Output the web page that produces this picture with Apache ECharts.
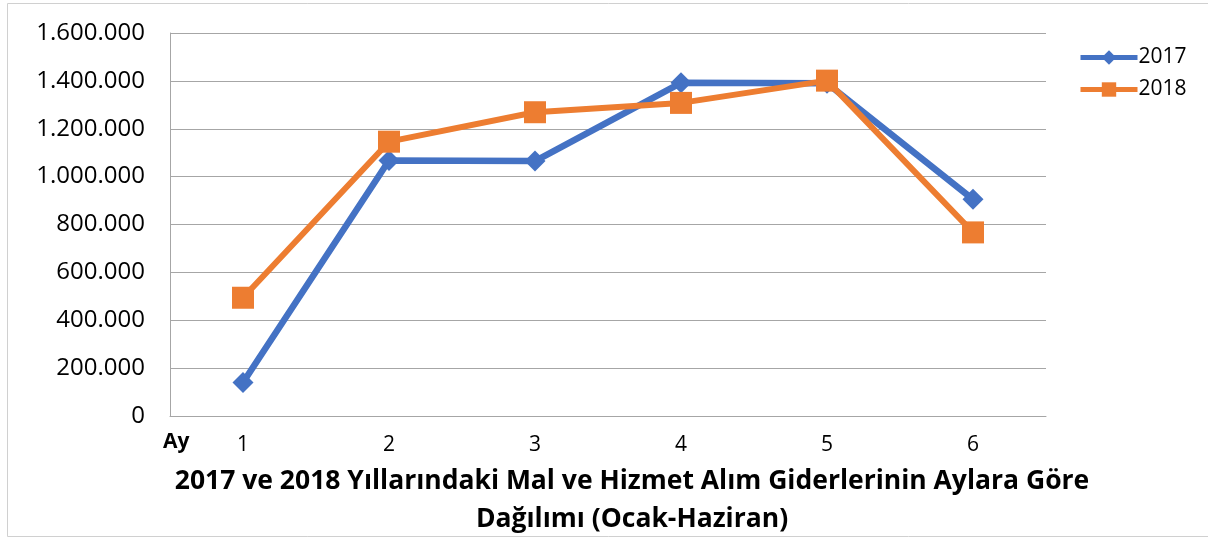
<!DOCTYPE html>
<html>
<head>
<meta charset="utf-8">
<script src="https://cdn.jsdelivr.net/npm/echarts@6/dist/echarts.min.js"></script>
<style>
  html, body { margin: 0; padding: 0; background: #fff; }
  #chart { width: 1208px; height: 540px; }
</style>
</head>
<body>
<div id="chart"></div>
<script>
// aylar ve yıllara göre giderler
const months = ['1', '2', '3', '4', '5', '6'];
const yTicks = [0, 200000, 400000, 600000, 800000, 1000000, 1200000, 1400000, 1600000];
const values2017 = [140000, 1067000, 1065000, 1392000, 1390000, 905000];
const values2018 = [494000, 1146000, 1269000, 1308000, 1401000, 767000];
const titleLines = [
  '2017 ve 2018 Yıllarındaki Mal ve Hizmet Alım Giderlerinin Aylara Göre',
  'Dağılımı (Ocak-Haziran)'
];

const FONT = 'Open Sans';

function fmt(v) {
  return String(v).replace(/\B(?=(\d{3})+(?!\d))/g, '.');
}

const chart = echarts.init(document.getElementById('chart'), null, { renderer: 'canvas' });

chart.setOption({
  animation: false,
  textStyle: { fontFamily: FONT },
  grid: { left: 170, right: 162, top: 33, bottom: 124, containLabel: false },
  title: {
    text: titleLines.join('\n'),
    left: 627,
    textAlign: 'center',
    top: 457,
    textStyle: { fontFamily: FONT, fontWeight: 'bold', fontSize: 26.5, lineHeight: 38, color: '#000' }
  },
  legend: {
    orient: 'vertical',
    left: 1073,
    top: 42,
    itemWidth: 57,
    itemHeight: 18,
    itemGap: 11,
    lineStyle: { width: 5 },
    textStyle: { fontFamily: FONT, fontSize: 21, color: '#000', padding: [0, 0, 0, -4] },
    data: ['2017', '2018']
  },
  xAxis: {
    type: 'category',
    data: months,
    boundaryGap: true,
    axisLine: { lineStyle: { color: '#A6A6A6', width: 1 } },
    axisTick: { show: false },
    axisLabel: { color: '#000', fontSize: 21, margin: 19, fontFamily: FONT }
  },
  yAxis: {
    type: 'value',
    min: yTicks[0],
    max: yTicks[yTicks.length - 1],
    interval: yTicks[1] - yTicks[0],
    axisLine: { show: true, lineStyle: { color: '#A6A6A6', width: 1 } },
    axisTick: { show: false },
    splitLine: { lineStyle: { color: '#A6A6A6', width: 1 } },
    axisLabel: { color: '#000', fontSize: 24, margin: 25, fontFamily: FONT, formatter: fmt }
  },
  graphic: [
    {
      type: 'rect',
      shape: { x: 7.5, y: 3.5, width: 1220, height: 533 },
      style: { fill: 'none', stroke: '#D0D0D0', lineWidth: 1 },
      silent: true
    },
    {
      type: 'text',
      left: 163,
      top: 432,
      style: { text: 'Ay', fontFamily: FONT, fontWeight: 'bold', fontSize: 21, fill: '#000' }
    }
  ],
  series: [
    {
      name: '2017',
      type: 'line',
      data: values2017,
      symbol: 'diamond',
      symbolSize: 21,
      itemStyle: { color: '#4472C4' },
      lineStyle: { color: '#4472C4', width: 6.5 }
    },
    {
      name: '2018',
      type: 'line',
      data: values2018,
      symbol: 'rect',
      symbolSize: 22,
      itemStyle: { color: '#ED7D31' },
      lineStyle: { color: '#ED7D31', width: 6 }
    }
  ]
});
</script>
</body>
</html>
